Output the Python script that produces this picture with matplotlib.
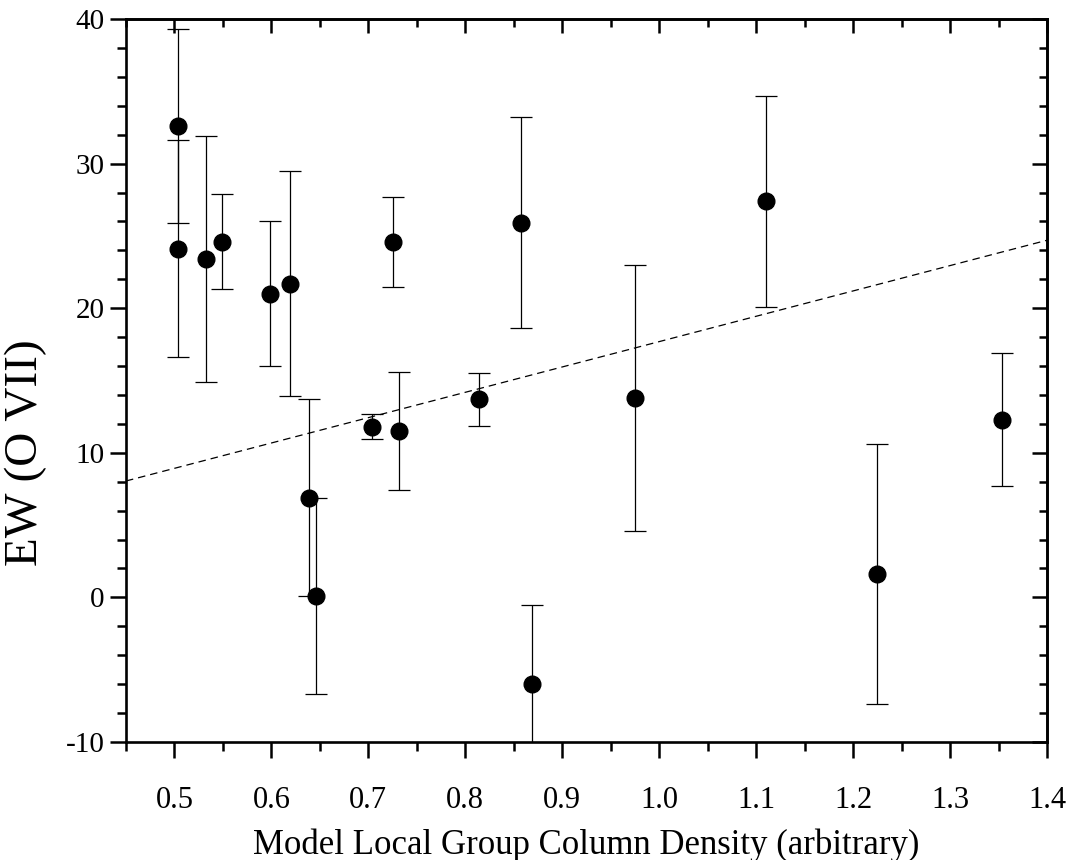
import matplotlib
matplotlib.use('Agg')
import matplotlib.pyplot as plt
from matplotlib.ticker import MultipleLocator

# Column density vs. O VII equivalent width
col_density = [0.504, 0.504, 0.533, 0.549, 0.599, 0.619, 0.639, 0.646, 0.704, 0.725,
               0.732, 0.814, 0.857, 0.869, 0.975, 1.110, 1.225, 1.354]
ew_ovii = [32.6, 24.1, 23.4, 24.6, 21.0, 21.7, 6.9, 0.1, 11.8, 24.6,
           11.5, 13.7, 25.9, -6.0, 13.8, 27.4, 1.6, 12.3]
ew_err = [6.7, 7.5, 8.5, 3.3, 5.0, 7.8, 6.8, 6.8, 0.85, 3.1,
          4.1, 1.85, 7.3, 5.5, 9.2, 7.3, 9.0, 4.6]

# linear fit line
fit_x = [0.45, 1.4]
fit_y = [8.05, 24.7]

plt.rcParams['font.family'] = 'Liberation Serif'
plt.rcParams['axes.unicode_minus'] = False

fig = plt.figure(figsize=(10.71, 8.6), dpi=100)
ax = fig.add_axes([0.1176, 0.1372, 0.86, 0.8407])

ax.errorbar(col_density, ew_ovii, yerr=ew_err, fmt='o', color='black',
            ecolor='black', elinewidth=0.9, capsize=8, capthick=0.9,
            markersize=12, zorder=3)
ax.plot(fit_x, fit_y, color='black', lw=0.9, ls=(0, (6, 4)))

ax.set_xlim(0.45, 1.4)
ax.set_ylim(-10, 40)

ax.xaxis.set_major_locator(MultipleLocator(0.1))
ax.xaxis.set_minor_locator(MultipleLocator(0.05))
ax.yaxis.set_major_locator(MultipleLocator(10))
ax.yaxis.set_minor_locator(MultipleLocator(2))
ax.set_xticks([0.5, 0.6, 0.7, 0.8, 0.9, 1.0, 1.1, 1.2, 1.3, 1.4])
ax.set_xticklabels(['0.5', '0.6', '0.7', '0.8', '0.9', '1.0', '1.1', '1.2', '1.3', '1.4'])

for s in ax.spines.values():
    s.set_linewidth(1.9)

ax.tick_params(which='major', direction='out', length=11.5, width=1.8)
ax.tick_params(which='minor', direction='out', length=6.5, width=1.8)
ax.tick_params(axis='x', which='major', labelsize=22, pad=20)
ax.tick_params(axis='y', which='major', labelsize=21, pad=4)

# inward ticks on the top and right edges
top = ax.secondary_xaxis('top')
top.xaxis.set_major_locator(MultipleLocator(0.1))
top.xaxis.set_minor_locator(MultipleLocator(0.05))
top.tick_params(which='major', direction='in', length=10, width=1.8, labeltop=False)
top.tick_params(which='minor', direction='in', length=5.5, width=1.8)
top.spines['top'].set_linewidth(1.9)

right = ax.secondary_yaxis('right')
right.yaxis.set_major_locator(MultipleLocator(10))
right.yaxis.set_minor_locator(MultipleLocator(2))
right.tick_params(which='major', direction='in', length=11, width=1.8, labelright=False)
right.tick_params(which='minor', direction='in', length=6, width=1.8)
right.spines['right'].set_linewidth(1.9)

ax.set_xlabel('Model Local Group Column Density (arbitrary)', fontsize=25, labelpad=10)
ax.set_ylabel('EW (O VII)', fontsize=34)
ax.yaxis.set_label_coords(-0.086, 0.40)

fig.savefig('out.png', dpi=100)
